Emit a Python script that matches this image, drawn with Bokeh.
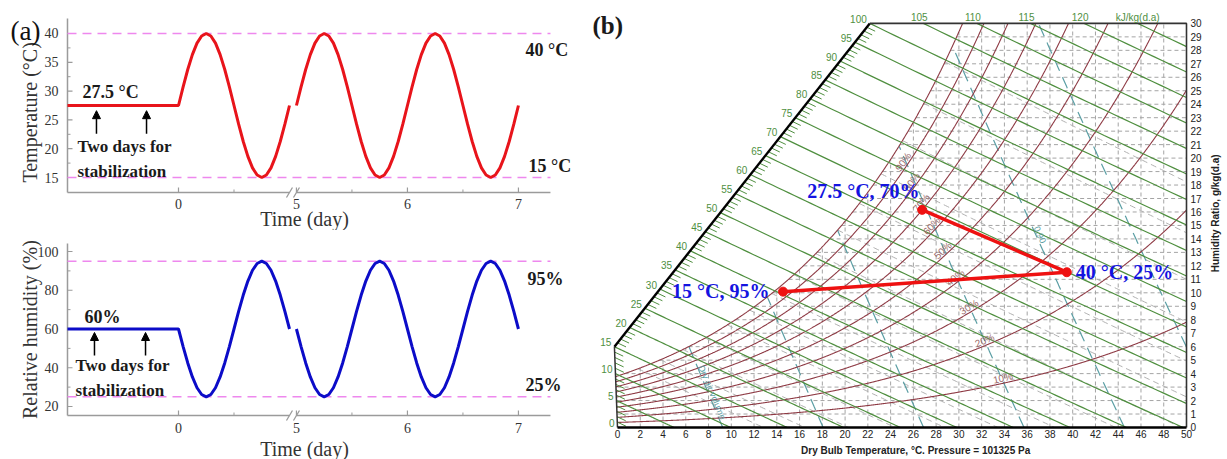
import numpy as np
from bokeh.plotting import figure
from bokeh.models import Range1d, Arrow, NormalHead
from bokeh.layouts import row, column
from bokeh.embed import file_html
from bokeh.resources import INLINE
from bokeh.core.properties import value

SERIF = "Liberation Serif"
SANS = "Liberation Sans"

# ====================== panel (a) data ======================
cycle_hours = list(range(25))
temp_cycle = [27.5, 30.74, 33.75, 36.34, 38.33, 39.57, 40.0, 39.57, 38.33, 36.34, 33.75, 30.74,
              27.5, 24.26, 21.25, 18.66, 16.67, 15.43, 15.0, 15.43, 16.67, 18.66, 21.25, 24.26, 27.5]
rh_cycle = [60.0, 50.94, 42.5, 35.25, 29.69, 26.19, 25.0, 26.19, 29.69, 35.25, 42.5, 50.94,
            60.0, 69.06, 77.5, 84.75, 90.31, 93.81, 95.0, 93.81, 90.31, 84.75, 77.5, 69.06, 60.0]
stab_start_day = -2.0
stab_temp = 27.5
stab_rh = 60.0
days_before_break = [0]
days_after_break = [5, 6]
temp_bounds = [15, 40]
rh_bounds = [25, 95]
temp_ticks = [15, 20, 25, 30, 35, 40]
temp_minor = [17.5, 22.5, 27.5, 32.5, 37.5]
rh_ticks = [20, 40, 60, 80, 100]
rh_minor = [30, 50, 70, 90]
day_ticks = [0, 5, 6, 7]
day_minor_ticks = [0.5, 5.5, 6.5]

# ====================== panel (b) data ======================
state_T = [27.5, 40.0, 15.0]
state_RH = [70, 25, 95]
state_labels = ["27.5 \u00b0C, 70%", "40 \u00b0C, 25%", "15 \u00b0C, 95%"]
process_paths = [[0, 1], [1, 2]]
rh_levels = [10, 20, 30, 40, 50, 60, 70, 80, 90, 100]
rh_label_levels = [10, 20, 30, 40, 50, 60, 70, 80, 90]
h_levels = list(range(5, 130, 5))
h_scale_labels = list(range(0, 101, 5))
h_top_labels = [105, 110, 115, 120]
wb_levels = list(range(2, 32, 2))
v_levels = [0.80, 0.825, 0.85, 0.875, 0.90, 0.925]
tdb_ticks = list(range(0, 51, 2))
w_ticks = list(range(0, 31))

# ------------------------------------------------------------
GAP = 0.0625


def to_u(t):
    t = np.asarray(t, float)
    return np.where(t < 0, t / 2.0, np.where(t <= 1.0, t, t - 4.0 + GAP))


def series(cycle, days, start=None):
    t, v = [], []
    if start is not None:
        t.append(start[0]); v.append(start[1])
    for k, d in enumerate(days):
        hrs = cycle_hours if k == len(days) - 1 else cycle_hours[:-1]
        t += [d + h / 24.0 for h in hrs]
        v += [cycle[h] for h in hrs]
    return to_u(t), np.array(v)


RED = "#e8141b"
BLUE = "#0c0cc8"
PINK = "#ee88ee"
AXC = "#9b9b9b"
TXT = "#1a1a1a"

u_ticks = [float(x) for x in to_u(day_ticks)]
u_minor = [float(x) for x in to_u(day_minor_ticks)]


def txt(p, x, y, text, size, bold=True, color=TXT, align="left", font=SERIF, angle=0.0, baseline="middle"):
    p.text([x], [y], text=[text], angle=[angle], text_font=value(font), text_font_size=value(size),
           text_font_style="bold" if bold else "normal", text_color=color,
           text_align=align, text_baseline=baseline)


A_W = 590
UX0, UX1 = -1.6036, 3.7117       # whole canvas (day units of the broken axis)
AX_L, AX_R = -1.0, 3.351          # drawn extent of the axes


def panel_a(height, yr, yspan, yticks, yminor, ylabel, ylab_y, cycle, flat, bounds, color):
    p = figure(width=A_W, height=height, x_range=Range1d(UX0, UX1), y_range=Range1d(*yr),
               output_backend="svg", toolbar_location=None,
               min_border_left=0, min_border_right=0, min_border_top=0, min_border_bottom=0)
    p.outline_line_color = None
    p.grid.visible = False
    p.axis.visible = False
    py = height / (yr[1] - yr[0])
    px = A_W / (UX1 - UX0)
    y_lo, y_hi = yspan
    # axis lines with the break mark
    ub = 1.0 + GAP / 2
    hw = 3.5 / px
    p.line([AX_L, AX_L], [y_lo, y_hi], line_color=AXC, line_width=1.5)
    p.multi_line([[AX_L, ub - hw], [ub + hw, AX_R]], [[y_lo, y_lo], [y_lo, y_lo]], line_color=AXC, line_width=1.5)
    dy = 5.0 / py
    ddx = 3.0 / px
    p.segment(x0=[ub - hw - ddx, ub + hw - ddx], y0=[y_lo - dy, y_lo - dy],
              x1=[ub - hw + ddx, ub + hw + ddx], y1=[y_lo + dy, y_lo + dy], line_color=AXC, line_width=1.3)
    # ticks (pointing inwards)
    p.segment(x0=u_ticks, y0=[y_lo] * len(u_ticks), x1=u_ticks, y1=[y_lo + 5 / py] * len(u_ticks),
              line_color=AXC, line_width=1.2)
    p.segment(x0=u_minor, y0=[y_lo] * len(u_minor), x1=u_minor, y1=[y_lo + 3 / py] * len(u_minor),
              line_color=AXC, line_width=1.0)
    p.segment(x0=[AX_L] * len(yticks), y0=yticks, x1=[AX_L + 5 / px] * len(yticks), y1=yticks,
              line_color=AXC, line_width=1.2)
    p.segment(x0=[AX_L] * len(yminor), y0=yminor, x1=[AX_L + 3 / px] * len(yminor), y1=yminor,
              line_color=AXC, line_width=1.0)
    p.text(u_ticks, [y_lo - 7 / py] * len(u_ticks), text=[str(d) for d in day_ticks], text_align="center",
           text_baseline="top", text_font=value(SERIF), text_font_size="14px", text_color="#333333")
    p.text([AX_L - 9 / px] * len(yticks), yticks, text=[str(t) for t in yticks], text_align="right",
           text_baseline="middle", text_font=value(SERIF), text_font_size="14px", text_color="#333333")
    for b in bounds:
        p.line([AX_L, AX_R], [b, b], line_color=PINK, line_dash="9 6", line_width=1.6)
    u1, v1 = series(cycle, days_before_break, start=(stab_start_day, flat))
    u2, v2 = series(cycle, days_after_break)
    p.line(u1, v1, line_color=color, line_width=3)
    p.line(u2, v2, line_color=color, line_width=3)
    txt(p, -1.338, ylab_y, ylabel, "20px", bold=False, color="#333333", align="center", angle=np.pi / 2)
    return p


# ---------------- top: temperature ----------------
pa1 = panel_a(230, (5.799, 45.729), (12.40, 42.60), temp_ticks, temp_minor, "Temperature (\u00b0C)", 26.3,
              temp_cycle, stab_temp, temp_bounds, RED)
txt(pa1, -1.514, 40.52, "(a)", "27px", bold=False, color="#111111")
txt(pa1, -0.865, 29.76, "27.5 \u00b0C", "18px")
txt(pa1, -0.910, 20.38, "Two days for", "17px")
txt(pa1, -0.910, 16.04, "stabilization", "17px")
txt(pa1, 3.126, 37.05, "40 \u00b0C", "18px")
txt(pa1, 3.153, 17.08, "15 \u00b0C", "18px")
txt(pa1, 1.135, 7.85, "Time (day)", "20px", bold=False, color="#333333", align="center")
for ux in (-0.739, -0.288):
    pa1.add_layout(Arrow(end=NormalHead(size=8, fill_color="black", line_color="black"),
                         x_start=ux, y_start=22.6, x_end=ux, y_end=26.6,
                         line_color="black", line_width=1.5))

# ---------------- bottom: relative humidity ----------------
pa2 = panel_a(229, (-7.355, 110.839), (15.35, 104.13), rh_ticks, rh_minor, "Relative humidity (%)", 59.7,
              rh_cycle, stab_rh, rh_bounds, BLUE)
txt(pa2, -0.847, 66.45, "60%", "18px")
txt(pa2, -0.928, 41.16, "Two days for", "17px")
txt(pa2, -0.928, 28.3, "stabilization", "17px")
txt(pa2, 3.144, 86.06, "95%", "18px")
txt(pa2, 3.126, 30.84, "25%", "18px")
txt(pa2, 1.135, -1.68, "Time (day)", "20px", bold=False, color="#333333", align="center")
for ux in (-0.757, -0.297):
    pa2.add_layout(Arrow(end=NormalHead(size=8, fill_color="black", line_color="black"),
                         x_start=ux, y_start=46.3, x_end=ux, y_end=58.2,
                         line_color="black", line_width=1.5))

# ====================== panel (b): psychrometric chart ======================
P_ATM = 101.325
SKEW = 0.045          # slight lean of the printed chart (deg C per g/kg)
W_TOP = 30.0
T_MAX = 50.0
X0, X1, Y0, Y1 = -2.3726, 53.603, -2.3757, 31.700
FW, FH = 637, 459
PX = FW / (X1 - X0)
PY = FH / (Y1 - Y0)


def p_sat(T):
    return 0.61094 * np.exp(17.625 * T / (T + 243.04))


def w_rh(T, rh):
    pv = rh / 100.0 * p_sat(T)
    return 622.0 * pv / (P_ATM - pv)


def cx(T, W):
    return T - SKEW * W


def t_h(h, W):
    return (h - 2.501 * W) / (1.006 + 0.00186 * W)


def t_v(v, W):
    return v * P_ATM / (0.287042 * (1 + 0.001607858 * W)) - 273.15


def v_of(T, W):
    return 0.287042 * (T + 273.15) * (1 + 0.001607858 * W) / P_ATM


def w_wb(T, twb):
    ws = w_rh(twb, 100) / 1000.0
    return 1000.0 * ((2501 - 2.326 * twb) * ws - 1.006 * (T - twb)) / (2501 + 1.86 * T - 4.186 * twb)


def clip(X, W, xmax=T_MAX, wmin=0.0, wmax=W_TOP):
    X = np.asarray(X, float); W = np.asarray(W, float)
    inside = (X <= xmax + 1e-9) & (W >= wmin - 1e-9) & (W <= wmax + 1e-9)
    if not inside.any():
        return [], []
    i0 = int(np.where(inside)[0][0])
    i1 = i0
    while i1 + 1 < len(X) and inside[i1 + 1]:
        i1 += 1
    xs = list(X[i0:i1 + 1]); ws = list(W[i0:i1 + 1])

    def cross(pi, po):
        x0, w0, x1, w1 = X[pi], W[pi], X[po], W[po]
        ts = []
        if x1 > xmax: ts.append((xmax - x0) / (x1 - x0))
        if w1 < wmin: ts.append((wmin - w0) / (w1 - w0))
        if w1 > wmax: ts.append((wmax - w0) / (w1 - w0))
        t = min(ts)
        return x0 + t * (x1 - x0), w0 + t * (w1 - w0)

    if i0 > 0:
        a, b = cross(i0, i0 - 1); xs.insert(0, a); ws.insert(0, b)
    if i1 < len(X) - 1:
        a, b = cross(i1, i1 + 1); xs.append(a); ws.append(b)
    return [float(v) for v in xs], [float(v) for v in ws]


pb = figure(width=FW, height=FH, x_range=Range1d(X0, X1), y_range=Range1d(Y0, Y1),
            output_backend="svg", toolbar_location=None,
            min_border_left=0, min_border_right=0, min_border_top=0, min_border_bottom=0)
pb.outline_line_color = None
pb.grid.visible = False
pb.axis.visible = False

# saturation curve
Ts = np.linspace(-3, 45, 2000)
Ws = w_rh(Ts, 100)
Xs = cx(Ts, Ws)

# enthalpy scale
WA = 15 / 2.501
XA = cx(0.0, WA)
XB = cx(t_h(100, W_TOP), W_TOP)


def scale_x(W):
    return np.where(W <= WA, XA * W / WA, XA + (W - WA) * (XB - XA) / (W_TOP - WA))


Wg = np.linspace(0, W_TOP, 6001)
Xb = scale_x(Wg)


def h_start(h):
    d = cx(t_h(h, Wg), Wg) - Xb
    idx = np.where(d < 0)[0]
    if len(idx) == 0:
        return float(cx(t_h(h, W_TOP), W_TOP)), W_TOP
    i = idx[0]
    if i == 0:
        return 0.0, 0.0
    f = d[i - 1] / (d[i - 1] - d[i])
    w0 = Wg[i - 1] + f * (Wg[i] - Wg[i - 1])
    return float(scale_x(w0)), float(w0)


GRID = "#a4a4a4"
GREEN = "#4f8f3f"
BROWN = "#8e3a44"
TEAL = "#5a9ea4"

# dry-bulb and humidity-ratio grid (unsaturated zone only)
gx, gy = [], []
for x in tdb_ticks[1:-1]:
    gx.append([x, x]); gy.append([0, min(W_TOP, float(np.interp(x, Xs, Ws)))])
for w in w_ticks[1:-1]:
    gx.append([max(0.0, float(np.interp(w, Ws, Xs))), T_MAX]); gy.append([w, w])
pb.multi_line(gx, gy, line_color=GRID, line_dash="4 3", line_width=1)

# wet-bulb lines
wx, wy = [], []
for twb in wb_levels:
    T = np.linspace(twb, twb + 45, 300)
    W = w_wb(T, twb)
    a, b = clip(cx(T, W), W)
    wx.append(a); wy.append(b)
pb.multi_line(wx, wy, line_color="#b0b0b0", line_dash="6 4", line_width=1)

# specific-volume lines
vx, vy = [], []
for v in v_levels:
    W = np.linspace(0, W_TOP, 800)
    T = t_v(v, W)
    ok = W <= w_rh(T, 100)
    n = int(np.argmin(ok)) if not ok.all() else len(W)
    a, b = clip(cx(T[:n], W[:n]), W[:n])
    vx.append(a); vy.append(b)
pb.multi_line(vx, vy, line_color=TEAL, line_dash="12 7", line_width=1.2)

# relative-humidity curves
rx, ry = [], []
for rh in rh_levels:
    T = np.linspace(0, 60, 1500)
    W = w_rh(T, rh)
    a, b = clip(cx(T, W), W)
    rx.append(a); ry.append(b)
pb.multi_line(rx, ry, line_color=BROWN, line_width=1.1)

# enthalpy lines + scale ticks
ex, ey = [], []
for h in h_levels:
    x0, w0 = h_start(h)
    W = np.linspace(w0, -0.5, 100)
    a, b = clip(cx(t_h(h, W), W), W)
    ex.append(a); ey.append(b)
tx, ty = [], []
for h in range(1, 101):
    if h % 5 == 0:
        continue
    x0, w0 = h_start(h)
    w1 = max(0.0, w0 - 0.3)
    tx.append([x0, float(cx(t_h(h, w1), w1))]); ty.append([w0, w1])
pb.multi_line(ex, ey, line_color=GREEN, line_width=1.2)
pb.multi_line(tx, ty, line_color=GREEN, line_width=1)

# borders
pb.line([XA, XB], [WA, W_TOP], line_color="black", line_width=2.4)
pb.line([0, XA], [0, WA], line_color="#333333", line_width=1.5)
pb.line([XB, T_MAX, T_MAX], [W_TOP, W_TOP, 0], line_color="#333333", line_width=1.6)
pb.line([0, T_MAX], [0, 0], line_color="black", line_width=2.4)

# axis tick labels
pb.text(tdb_ticks, [-3 / PY] * len(tdb_ticks), text=[str(t) for t in tdb_ticks], text_align="center",
        text_baseline="top", text_font=value(SANS), text_font_size="10px", text_color="#222222")
pb.text([T_MAX + 4 / PX] * len(w_ticks), w_ticks, text=[str(w) for w in w_ticks], text_align="left",
        text_baseline="middle", text_font=value(SANS), text_font_size="10px", text_color="#222222")

# enthalpy labels
hl_x, hl_y, hl_t = [], [], []
for h in h_scale_labels:
    x0, w0 = h_start(h)
    hl_x.append(x0 - 3 / PX); hl_y.append(w0 + 4.5 / PY); hl_t.append(str(h))
pb.text(hl_x, hl_y, text=hl_t, text_align="right", text_baseline="middle", text_color=GREEN,
        text_font=value(SANS), text_font_size="10px")
top_x = [float(cx(t_h(h, W_TOP), W_TOP)) - 4 / PX for h in h_top_labels]
pb.text(top_x, [W_TOP + 6 / PY] * len(top_x), text=[str(h) for h in h_top_labels], text_align="center",
        text_baseline="middle", text_color=GREEN, text_font=value(SANS), text_font_size="10px")
pb.text([float(cx(t_h(h_levels[-1], W_TOP), W_TOP))], [W_TOP + 6 / PY], text=["kJ/kg(d.a)"],
        text_align="center", text_baseline="middle", text_color=GREEN, text_font=value(SANS),
        text_font_size="10px")

# RH labels (along the 0.875 m3/kg volume line)
rl_x, rl_y, rl_a, rl_t = [], [], [], []
for rh in rh_label_levels:
    T = np.linspace(0, 60, 3000)
    W = w_rh(T, rh)
    X = cx(T, W)
    i = int(np.argmax(v_of(T, W) >= 0.875))
    a = float(np.arctan2((W[i + 1] - W[i - 1]) * PY, (X[i + 1] - X[i - 1]) * PX))
    rl_x.append(X[i] - np.sin(a) * 5 / PX); rl_y.append(W[i] + np.cos(a) * 5 / PY)
    rl_a.append(a); rl_t.append(f"{rh}%")
pb.text(rl_x, rl_y, text=rl_t, angle=rl_a, text_align="center", text_baseline="middle",
        text_color="#9a6a6a", text_font=value(SANS), text_font_size="10px")

# volume labels
for v, w_at, label in [(0.90, 14.3, "0.90"), (0.80, 2.6, "Dry air volume")]:
    w_a, w_b = w_at + 0.5, w_at - 0.5
    xa, xb = cx(t_v(v, w_a), w_a), cx(t_v(v, w_b), w_b)
    ang = float(np.arctan2((w_b - w_a) * PY, (xb - xa) * PX))
    pb.text([float(cx(t_v(v, w_at), w_at)) + 0.35], [w_at], text=[label], angle=[ang], text_align="center",
            text_baseline="middle", text_color=TEAL, text_font=value(SANS), text_font_size="9px")

# process lines and states
sW = [float(w_rh(t, r)) for t, r in zip(state_T, state_RH)]
sX = [float(cx(t, w)) for t, w in zip(state_T, sW)]
for path in process_paths:
    pb.line([sX[i] for i in path], [sW[i] for i in path], line_color="#ee1111", line_width=3.5)
pb.scatter(sX, sW, size=9, color="#ee1111")
label_off = [(-115, 19), (9, 0), (-111, 1)]
for (dx, dy), x, w, t in zip(label_off, sX, sW, state_labels):
    txt(pb, x + dx / PX, w + dy / PY, t, "20px", color="#1414e0")

txt(pb, -2.2, 29.84, "(b)", "25px")
txt(pb, 26.2, -1.71, "Dry Bulb Temperature, \u00b0C. Pressure = 101325 Pa", "10px", font=SANS,
    align="center", color="#222222")
txt(pb, 52.55, 15.9, "Humidity Ratio, g/kg(d.a)", "10px", font=SANS, align="center",
    color="#222222", angle=np.pi / 2)

layout = row(column(pa1, pa2), pb)
open("out.html", "w").write(file_html(layout, INLINE))
